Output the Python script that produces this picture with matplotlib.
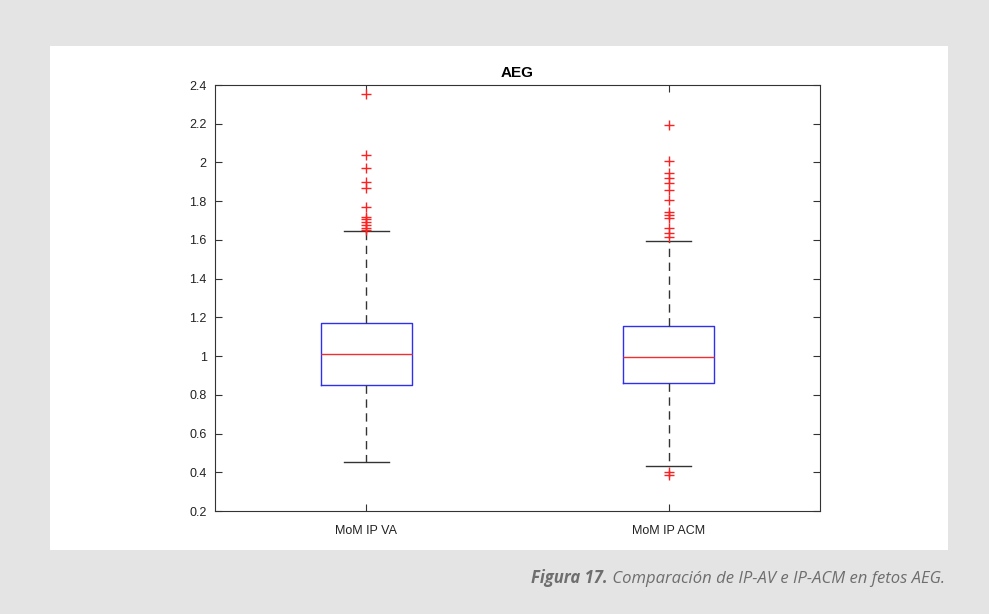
import matplotlib.pyplot as plt
from matplotlib.patches import Rectangle

# Resumen de cada grupo (MoM de IP)
grupos = ["MoM IP VA", "MoM IP ACM"]
medianas = [1.011, 0.995]
q1 = [0.851, 0.861]
q3 = [1.171, 1.156]
bigote_inf = [0.453, 0.432]
bigote_sup = [1.646, 1.595]
atipicos = [
    [2.354, 2.039, 1.973, 1.901, 1.867, 1.772, 1.720, 1.707, 1.694, 1.677, 1.660, 1.651],
    [2.194, 2.009, 1.944, 1.918, 1.896, 1.858, 1.806, 1.746, 1.729, 1.712, 1.660,
     1.637, 1.617, 0.403, 0.386],
]
yticks = [0.2, 0.4, 0.6, 0.8, 1, 1.2, 1.4, 1.6, 1.8, 2, 2.2, 2.4]

W, H = 989, 614
fig = plt.figure(figsize=(W / 100, H / 100), dpi=100, facecolor="#e3e4e3")

# panel blanco
fig.patches.append(Rectangle((50 / W, 1 - 550 / H), 898 / W, 504 / H,
                             transform=fig.transFigure, facecolor="white",
                             edgecolor="none", zorder=-10))

ax = fig.add_axes([215 / W, 1 - 511 / H, 605 / W, 426 / H])
ax.set_zorder(1)

stats = []
for i in range(len(grupos)):
    stats.append({"label": grupos[i], "med": medianas[i], "q1": q1[i], "q3": q3[i],
                  "whislo": bigote_inf[i], "whishi": bigote_sup[i],
                  "fliers": atipicos[i]})

ax.bxp(stats, widths=0.3, showfliers=True,
       boxprops=dict(color="#2f2ff0", linewidth=1.0),
       medianprops=dict(color="#f03030", linewidth=1.0),
       whiskerprops=dict(color="#333333", linewidth=1.0, linestyle=(0, (6, 4))),
       capprops=dict(color="#333333", linewidth=1.0),
       capwidths=0.15,
       flierprops=dict(marker="+", markeredgecolor="#ff2020", markersize=7,
                       markeredgewidth=1.0, linestyle="none"))

ax.set_xlim(0.5, 2.5)
ax.set_ylim(0.2, 2.4)
ax.set_yticks(yticks)
ax.set_yticklabels([f"{v:g}" for v in yticks])
ax.tick_params(direction="in", length=5, width=0.8, color="#333333",
               labelsize=9, labelcolor="#222222", top=True, right=True, pad=6)
ax.tick_params(axis="x", pad=10)
for lab in ax.get_xticklabels() + ax.get_yticklabels():
    lab.set_family("Liberation Sans")
for s in ax.spines.values():
    s.set_color("#333333")
    s.set_linewidth(0.8)
ax.set_title("AEG", fontsize=11, fontweight="bold", family="Liberation Sans", pad=6)

# pie de figura
cap_y = 1 - 583 / H
t2 = fig.text(945 / W, cap_y, " Comparación de IP-AV e IP-ACM en fetos AEG.",
              ha="right", va="baseline", fontsize=12, style="italic",
              family="Open Sans", color="#6e6e6e")
fig.canvas.draw()
bb = t2.get_window_extent()
fig.text(bb.x0 / W, cap_y, "Figura 17.", ha="right", va="baseline", fontsize=12,
         style="italic", fontweight="bold", family="Open Sans", color="#6e6e6e")

fig.savefig("out.png", dpi=100, facecolor=fig.get_facecolor())
